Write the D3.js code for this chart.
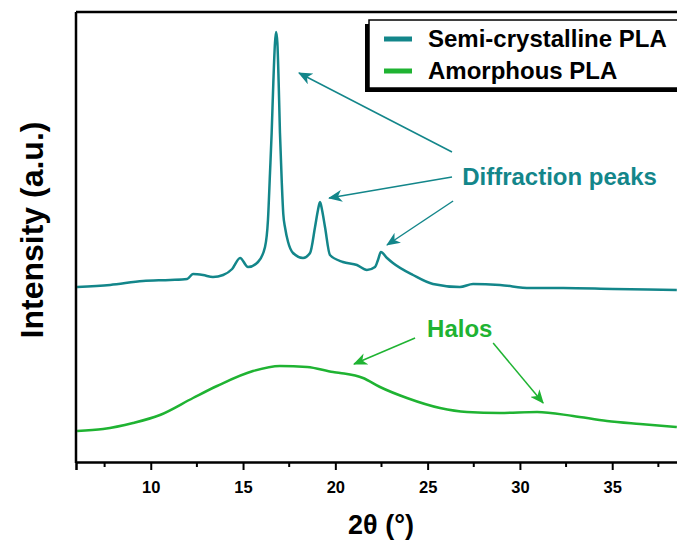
<html>
<head>
<meta charset="utf-8">
<title>XRD PLA</title>
<script src="https://d3js.org/d3.v7.min.js"></script>
<style>
  body { margin: 0; background: #ffffff; }
  text { font-family: "Liberation Sans", Arial, sans-serif; font-weight: bold; }
</style>
</head>
<body>
<div id="my_dataviz"></div>
<script>
// 2theta (deg) and intensity (a.u.)
var semiTheta = [6.01, 7.80, 9.58, 11.05, 11.97, 12.29, 12.83, 13.37, 13.92, 14.41, 14.84, 15.27, 15.81, 16.19, 16.35, 16.46, 16.55, 16.64, 16.73, 16.79, 16.86, 16.93, 17.00, 17.10, 17.18, 17.28, 17.44, 17.71, 18.25, 18.63, 18.90, 19.06, 19.17, 19.28, 19.44, 19.71, 20.41, 21.17, 21.71, 22.15, 22.31, 22.47, 22.80, 23.12, 24.21, 25.29, 26.75, 27.46, 28.92, 30.55, 32.34, 35.04, 38.50];
var semiInt   = [175, 177, 181, 182, 183, 188, 187, 185, 187, 193, 204, 195, 200, 215, 242, 289, 329, 379, 419, 430, 419, 379, 329, 279, 248, 234, 220, 209, 204, 209, 235, 252, 260, 252, 235, 207, 200, 197, 192, 195, 202, 210, 204, 199, 187, 178, 175, 178, 177, 174, 174, 173, 172];

var amorTheta = [6.01, 7.42, 9.04, 10.50, 12.29, 13.59, 15.54, 17.00, 18.47, 19.88, 20.26, 21.50, 22.42, 23.88, 25.67, 27.13, 28.92, 30.93, 32.88, 34.72, 36.51, 38.50];
var amorInt   = [31, 33, 39, 47, 64, 76, 91, 96, 95, 90, 89, 84, 75, 64, 54, 50, 49, 50, 46, 41, 38, 35];

var seriesNames = ["Semi-crystalline PLA", "Amorphous PLA"];
var majorTicks = [10, 15, 20, 25, 30, 35];
var minorTicks = [7.5, 12.5, 17.5, 22.5, 27.5, 32.5, 37.5];

var teal = "#13868a", green = "#1fb332";

var width = 677, height = 542;
var svg = d3.select("#my_dataviz").append("svg")
    .attr("width", width).attr("height", height);

var x = d3.scaleLinear().domain([5.95, 40]).range([76, 704.5]);
var y = d3.scaleLinear().domain([0, 450]).range([462, 12]);

svg.append("defs").append("clipPath").attr("id", "plotclip")
  .append("rect").attr("x", 76).attr("y", 12).attr("width", 628).attr("height", 450);

// frame: top and right edge (right is outside the window)
svg.append("path")
    .attr("d", "M76,12H" + x(40) + "V462")
    .attr("fill", "none").attr("stroke", "#000").attr("stroke-width", 2.5);

// data lines
var line = d3.line()
    .x(function(d) { return x(d[0]); })
    .y(function(d) { return y(d[1]); })
    .curve(d3.curveMonotoneX);

var g = svg.append("g").attr("clip-path", "url(#plotclip)");
g.append("path")
    .datum(semiTheta.map(function(t, i) { return [t, semiInt[i]]; }))
    .attr("d", line).attr("fill", "none")
    .attr("stroke", teal).attr("stroke-width", 2.5).attr("stroke-linejoin", "round");
g.append("path")
    .datum(amorTheta.map(function(t, i) { return [t, amorInt[i]]; }))
    .attr("d", line).attr("fill", "none")
    .attr("stroke", green).attr("stroke-width", 2.5).attr("stroke-linejoin", "round");

// x axis
var xAxis = svg.append("g").attr("transform", "translate(0,462)")
    .call(d3.axisBottom(x).tickValues(majorTicks).tickSize(8).tickFormat(d3.format("d")));
xAxis.select(".domain").attr("stroke-width", 2.5);
xAxis.selectAll(".tick line").attr("stroke-width", 2);
xAxis.selectAll(".tick text")
    .attr("y", 31).attr("dy", 0)
    .style("font-size", "16.5px").style("font-family", "'Liberation Sans', Arial, sans-serif")
    .style("font-weight", "bold").attr("fill", "#000");
svg.append("g").attr("transform", "translate(0,462)")
    .selectAll("line").data(minorTicks).enter().append("line")
    .attr("x1", function(d) { return x(d); }).attr("x2", function(d) { return x(d); })
    .attr("y1", 0).attr("y2", 5)
    .attr("stroke", "#000").attr("stroke-width", 2);

// y axis: bare line
svg.append("line").attr("x1", 76).attr("x2", 76).attr("y1", 12).attr("y2", 463)
    .attr("stroke", "#000").attr("stroke-width", 2.5);

// axis titles
svg.append("text").attr("x", 381).attr("y", 534).attr("text-anchor", "middle")
    .style("font-size", "27px").text("2\u03b8 (\u00b0)");
svg.append("text").attr("transform", "translate(43,230) rotate(-90)")
    .attr("text-anchor", "middle").style("font-size", "32px").text("Intensity (a.u.)");

// legend with shadow
svg.append("rect").attr("x", 365).attr("y", 24).attr("width", 400).attr("height", 68).attr("fill", "#000");
svg.append("rect").attr("x", 369).attr("y", 20).attr("width", 400).attr("height", 68)
    .attr("fill", "#fff").attr("stroke", "#000").attr("stroke-width", 1.5);
var legColors = [teal, green];
var legRows = svg.selectAll(".leg").data(seriesNames).enter().append("g")
    .attr("transform", function(d, i) { return "translate(0," + (i * 32) + ")"; });
legRows.append("line").attr("x1", 384).attr("x2", 412).attr("y1", 39).attr("y2", 39)
    .attr("stroke", function(d, i) { return legColors[i]; }).attr("stroke-width", 5);
legRows.append("text").attr("x", 428).attr("y", 47).style("font-size", "24px")
    .attr("fill", "#000").text(function(d) { return d; });

// annotations (arrows in data coordinates)
var defs = svg.select("defs");
[["tealhead", teal], ["greenhead", green]].forEach(function(m) {
  defs.append("marker").attr("id", m[0])
      .attr("viewBox", "0 0 14 12").attr("refX", 13).attr("refY", 6)
      .attr("markerWidth", 14).attr("markerHeight", 12)
      .attr("markerUnits", "userSpaceOnUse").attr("orient", "auto")
    .append("path").attr("d", "M0,0L14,6L0,12L4,6Z").attr("fill", m[1]);
});

var peakArrows = [[26.32, 310, 18.03, 389], [26.32, 285, 19.66, 264], [26.38, 261, 22.80, 217]];
var haloArrows = [[24.32, 124, 21.01, 98], [28.55, 119, 31.26, 59]];

svg.selectAll(".parrow").data(peakArrows).enter().append("line")
    .attr("x1", function(d) { return x(d[0]); }).attr("y1", function(d) { return y(d[1]); })
    .attr("x2", function(d) { return x(d[2]); }).attr("y2", function(d) { return y(d[3]); })
    .attr("stroke", teal).attr("stroke-width", 1.5).attr("marker-end", "url(#tealhead)");
svg.selectAll(".harrow").data(haloArrows).enter().append("line")
    .attr("x1", function(d) { return x(d[0]); }).attr("y1", function(d) { return y(d[1]); })
    .attr("x2", function(d) { return x(d[2]); }).attr("y2", function(d) { return y(d[3]); })
    .attr("stroke", green).attr("stroke-width", 1.5).attr("marker-end", "url(#greenhead)");

svg.append("text").attr("x", x(26.87)).attr("y", y(277)).style("font-size", "24px")
    .attr("fill", teal).text("Diffraction peaks");
svg.append("text").attr("x", x(24.97)).attr("y", y(125)).style("font-size", "24px")
    .attr("fill", green).text("Halos");
</script>
</body>
</html>
